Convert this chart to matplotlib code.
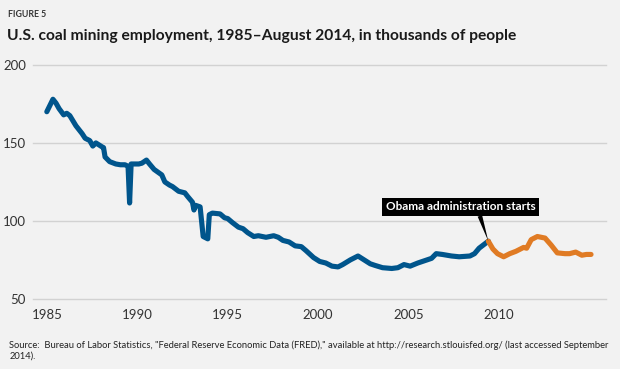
import matplotlib
matplotlib.use('Agg')
import matplotlib.pyplot as plt

plt.rcParams['font.family'] = ['Lato', 'DejaVu Sans']

# months since January 1985
months_before = [0, 4, 6, 8, 11, 13, 15, 19, 23, 25, 28, 30, 32, 36, 37, 38, 41, 45, 48, 51,
                 53, 54, 55, 60, 62, 65, 67, 70, 75, 77, 80, 82, 86, 90, 92, 95, 96, 97, 100,
                 102, 105, 106, 108, 113, 116, 118, 121, 125, 128, 131, 135, 138, 143, 148,
                 151, 154, 158, 162, 166, 169, 174, 178, 182, 186, 190, 193, 198, 203, 207,
                 211, 214, 219, 225, 229, 233, 237, 242, 248, 251, 254, 258, 264, 269, 276,
                 279, 282, 288]
jobs_before = [170, 178, 175.5, 172, 168, 169, 167.5, 161, 156, 153, 151.5, 148, 150, 147.5,
               147, 141, 138, 136.5, 136, 136, 135, 111.5, 136.5, 136.5, 137, 139, 136.5, 133,
               129.5, 125, 123, 122, 119, 118, 115.5, 112, 107, 110, 109, 90, 88.5, 104, 105,
               104.5, 102, 101.5, 99, 96, 95, 92.5, 90, 90.5, 89.5, 90.5, 89.5, 87.5, 86.5,
               84, 83.5, 81, 76.5, 74, 73, 71, 70.5, 72, 75, 77.5, 75, 72.5, 71.5, 70, 69.5,
               70, 72, 71, 73, 75, 76, 79, 78.5, 77.5, 77, 77.5, 79, 82.5, 87]

months_after = [288, 291, 294, 298, 302, 306, 311, 313, 316, 320, 325, 329, 333, 338, 341,
                345, 349, 352, 355]
jobs_after = [87, 82, 79, 77, 79, 80.5, 83, 82.5, 88, 90, 89, 84.5, 79.5, 79, 79, 80, 78,
              78.5, 78.5]

tick_months = [0, 59, 118, 177, 236, 295]
tick_labels = ['1985', '1990', '1995', '2000', '2005', '2010']
y_ticks = [50, 100, 150, 200]

bg = '#f2f2f2'
blue = '#00558c'
orange = '#e07b24'

fig = plt.figure(figsize=(6.2, 3.69), dpi=100, facecolor=bg)
ax = fig.add_axes([0.053, 0.19, 0.924, 0.634], facecolor=bg)
renderer = fig.canvas.get_renderer()


def fit_width(txt, width_px):
    # shrink/grow the font so the text spans the wanted pixel width
    w = txt.get_window_extent(renderer).width
    txt.set_fontsize(txt.get_fontsize() * width_px / w)


ax.plot(months_before, jobs_before, color=blue, lw=3.7, solid_joinstyle='round',
        solid_capstyle='round', zorder=3)
ax.plot(months_after, jobs_after, color=orange, lw=3.7, solid_joinstyle='round',
        solid_capstyle='round', zorder=3)

ax.set_xlim(-9.1, 364.6)
ax.set_ylim(50, 200)
ax.set_yticks(y_ticks)
ax.set_xticks(tick_months)
ax.set_xticklabels(tick_labels)
ax.yaxis.grid(True, color='#d2d2d2', lw=1, clip_on=False)
ax.set_axisbelow(True)
for s in ax.spines.values():
    s.set_visible(False)
ax.tick_params(length=0, labelsize=9.5, colors='#333333')
ax.tick_params(axis='y', pad=5)
ax.tick_params(axis='x', pad=7)

ann = ax.annotate('Obama administration starts', xy=(months_after[0], jobs_after[0]),
                  xytext=(270, 109), ha='center', va='center', color='white',
                  fontsize=10, fontweight='bold',
                  bbox=dict(boxstyle='square,pad=0.3', fc='black', ec='none'),
                  arrowprops=dict(arrowstyle='wedge,tail_width=0.4,shrink_factor=0.5',
                                  fc='black', ec='none', shrinkA=0, shrinkB=0,
                                  relpos=(0.62, 0.0)),
                  zorder=5)
fit_width(ann, 148)

fig_lbl = fig.text(0.013, 0.96, 'FIGURE 5', fontsize=8, fontweight='bold', color='#333333',
                   va='center')
fit_width(fig_lbl, 38)
title = fig.text(0.012, 0.903,
                 'U.S. coal mining employment, 1985\u2013August 2014, in thousands of people',
                 fontsize=13, fontweight='bold', color='#1a1a1a', va='center')
fit_width(title, 510)
src = fig.text(0.015, 0.05,
               'Source:  Bureau of Labor Statistics, "Federal Reserve Economic Data (FRED)," '
               'available at http://research.stlouisfed.org/ (last accessed September\n2014).',
               fontsize=7.5, color='#222222', va='center', linespacing=1.3)
fit_width(src, 596)

fig.savefig('out.png', dpi=100, facecolor=bg)
